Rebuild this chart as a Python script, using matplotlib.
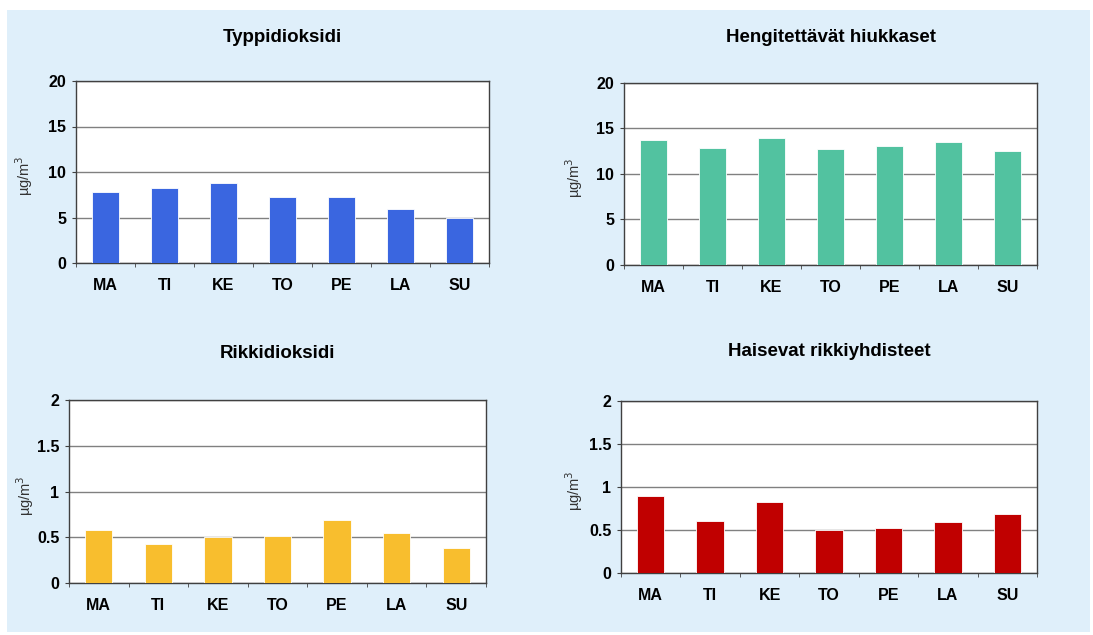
import matplotlib.pyplot as plt
import numpy as np
from matplotlib.patches import Rectangle

plt.rcParams['font.family'] = ['Liberation Sans', 'DejaVu Sans']

days = ['MA', 'TI', 'KE', 'TO', 'PE', 'LA', 'SU']

no2 = [7.8, 8.2, 8.8, 7.3, 7.3, 5.9, 5.0]
pm10 = [13.7, 12.9, 13.95, 12.75, 13.1, 13.5, 12.55]
so2 = [0.58, 0.43, 0.50, 0.51, 0.69, 0.55, 0.38]
trs = [0.90, 0.61, 0.83, 0.50, 0.52, 0.59, 0.69]

titles = ['Typpidioksidi', 'Hengitettävät hiukkaset', 'Rikkidioksidi', 'Haisevat rikkiyhdisteet']
colors = ['#3a66e0', '#52c2a0', '#f8be2e', '#c00000']
ymaxes = [20, 20, 2, 2]
ysteps = [5, 5, 0.5, 0.5]

W, H = 1093, 635
fig = plt.figure(figsize=(W / 100, H / 100), dpi=100)
fig.patch.set_facecolor('white')
fig.patches.append(Rectangle((7 / W, 3 / H), 1083 / W, 622 / H, transform=fig.transFigure,
                             facecolor='#dfeffa', edgecolor='none', zorder=-10))

# axes boxes in pixels: left, top, right, bottom
boxes = [(76, 81, 489, 263), (624, 83, 1037, 265), (69, 400, 486, 583), (621, 401, 1037, 573)]
title_y = [38, 38, 353, 352]
ylab_x = [24, 574, 25, 574]

for i, vals in enumerate([no2, pm10, so2, trs]):
    l, t, r, b = boxes[i]
    ax = fig.add_axes([l / W, 1 - b / H, (r - l) / W, (b - t) / H])
    ax.set_facecolor('white')
    x = np.arange(len(days))
    ax.bar(x, vals, width=0.46, color=colors[i], edgecolor='#ffffff', linewidth=0.6, zorder=3)
    ax.set_xlim(-0.5, len(days) - 0.5)
    ax.set_ylim(0, ymaxes[i])
    ticks = np.arange(0, ymaxes[i] + ysteps[i] / 2, ysteps[i])
    ax.set_yticks(ticks)
    ax.set_yticklabels([('%g' % v) for v in ticks], fontsize=11.5, fontweight='bold')
    ax.yaxis.grid(True, color='#808080', linewidth=1.0, zorder=0)
    ax.set_xticks(x)
    ax.set_xticklabels(days, fontsize=11.5, fontweight='bold')
    ax.set_xticks(np.arange(-0.5, len(days)), minor=True)
    ax.tick_params(axis='x', which='major', length=0, pad=11)
    ax.tick_params(axis='x', which='minor', length=3, color='#404040', direction='out')
    ax.tick_params(axis='y', length=3, color='#404040', pad=4)
    for s in ax.spines.values():
        s.set_color('#404040')
        s.set_linewidth(1.0)
    fig.text(ylab_x[i] / W, 1 - ((t + b) / 2 + 4) / H, 'µg/m$^3$', rotation=90,
             ha='center', va='center', fontsize=10.5, color='#333333')
    fig.text((l + r) / 2 / W, 1 - title_y[i] / H, titles[i], ha='center', va='center',
             fontsize=13.5, fontweight='bold')

fig.savefig('out.png', dpi=100)
